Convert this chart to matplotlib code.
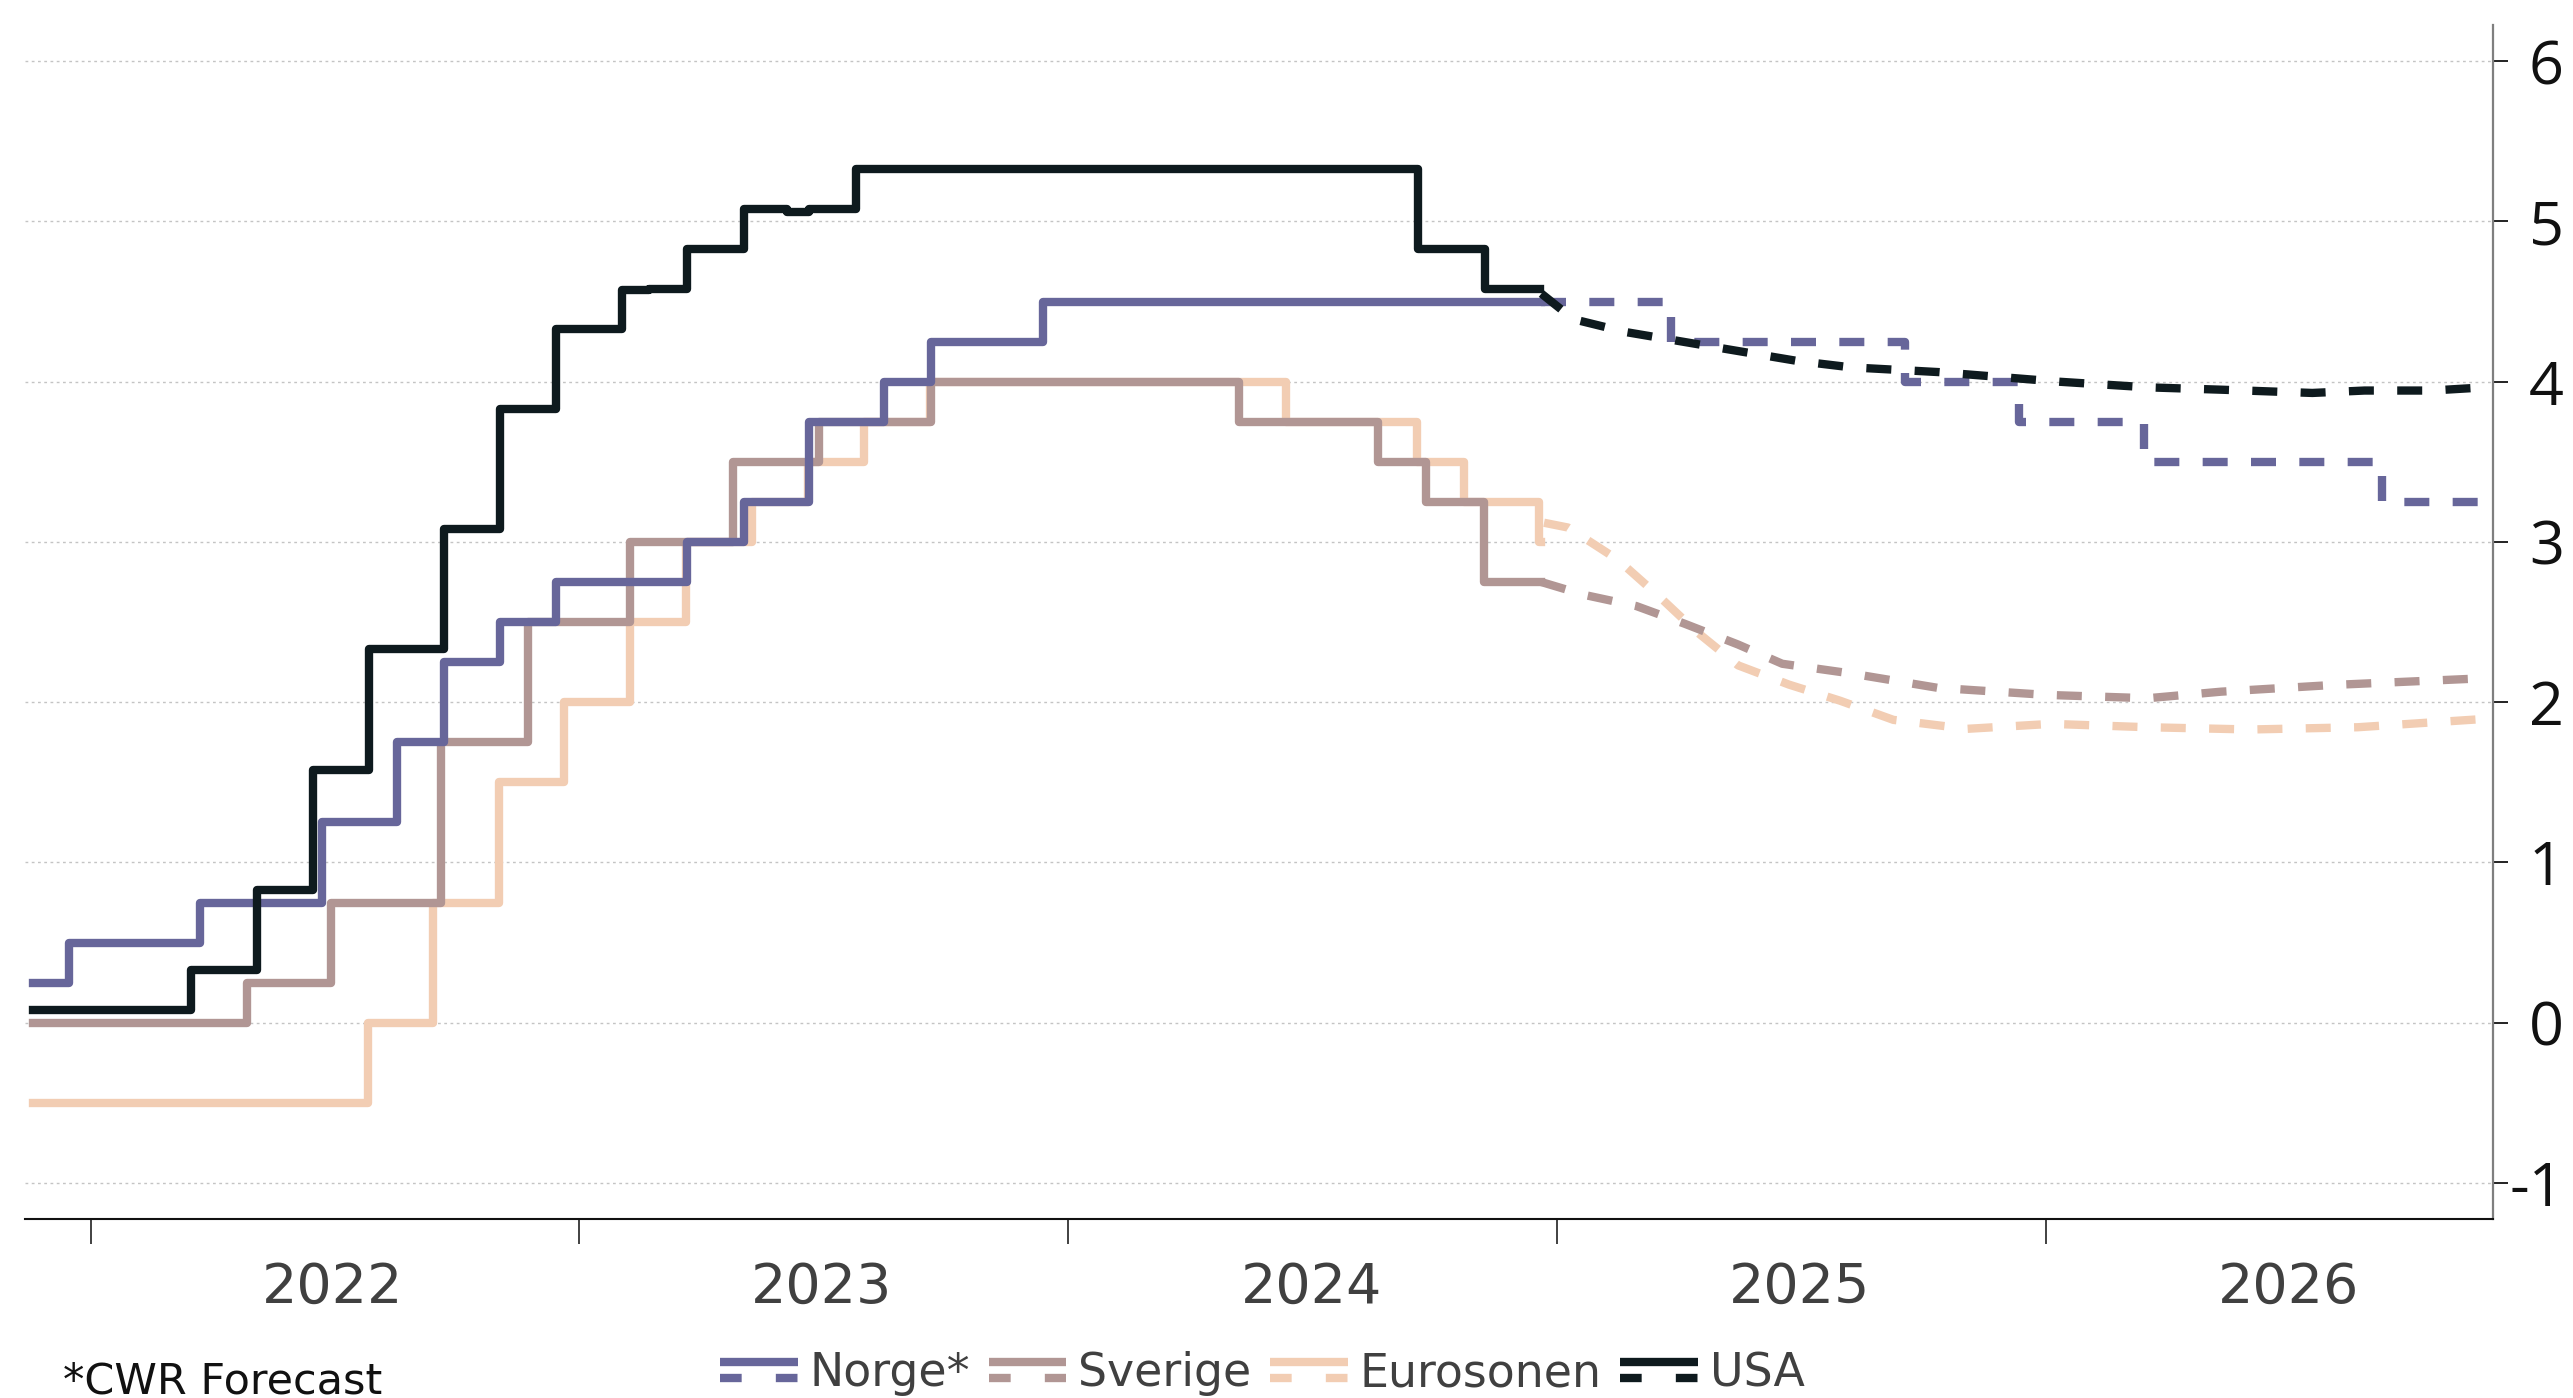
import matplotlib
matplotlib.use("Agg")
import matplotlib.pyplot as plt
import matplotlib.dates as mdates
from matplotlib.legend_handler import HandlerBase
from matplotlib.lines import Line2D
import pandas as pd

plt.rcParams['font.family'] = ['DejaVu Sans']

# Styringsrenter, historikk: dato for hver endring og ny rente
norge_dato = ['2021-11-19', '2021-12-16', '2022-03-24', '2022-06-23', '2022-08-18',
              '2022-09-22', '2022-11-03', '2022-12-15', '2023-03-23', '2023-05-04',
              '2023-06-22', '2023-08-17', '2023-09-21', '2023-12-14', '2024-12-20']
norge_rente = [0.25, 0.5, 0.75, 1.25, 1.75, 2.25, 2.5, 2.75, 3.0, 3.25, 3.75, 4.0,
               4.25, 4.5, 4.5]

sverige_dato = ['2021-11-19', '2022-04-28', '2022-06-30', '2022-09-20', '2022-11-24',
                '2023-02-08', '2023-04-26', '2023-06-29', '2023-09-21', '2024-05-08',
                '2024-08-20', '2024-09-25', '2024-11-07', '2024-12-20']
sverige_rente = [0.0, 0.25, 0.75, 1.75, 2.5, 3.0, 3.5, 3.75, 4.0, 3.75, 3.5, 3.25,
                 2.75, 2.75]

euro_dato = ['2021-11-19', '2022-07-27', '2022-09-14', '2022-11-02', '2022-12-21',
             '2023-02-08', '2023-03-22', '2023-05-10', '2023-06-21', '2023-08-02',
             '2023-09-20', '2024-06-12', '2024-09-18', '2024-10-23', '2024-12-18',
             '2024-12-20']
euro_rente = [-0.5, 0.0, 0.75, 1.5, 2.0, 2.5, 3.0, 3.25, 3.5, 3.75, 4.0, 3.75, 3.5,
              3.25, 3.0, 3.0]

usa_dato = ['2021-11-19', '2022-03-17', '2022-05-05', '2022-06-16', '2022-07-28',
            '2022-09-22', '2022-11-03', '2022-12-15', '2023-02-02', '2023-02-22',
            '2023-03-23', '2023-05-04', '2023-06-05', '2023-06-22', '2023-07-27',
            '2024-09-19', '2024-11-08', '2024-12-19']
usa_rente = [0.08, 0.33, 0.83, 1.58, 2.33, 3.08, 3.83, 4.33, 4.57, 4.58, 4.83, 5.08,
             5.06, 5.08, 5.33, 4.83, 4.58, 4.58]

# Prognoser (CWR / markedsprising)
norge_prog_dato = ['2024-12-20', '2025-03-27', '2025-09-18', '2025-12-12',
                   '2026-03-15', '2026-09-09', '2026-11-25']
norge_prog = [4.5, 4.25, 4.0, 3.75, 3.5, 3.25, 3.25]

sverige_prog_dato = ['2024-12-20', '2025-01-21', '2025-03-01', '2025-04-06',
                     '2025-05-16', '2025-06-18', '2025-08-08', '2025-10-12',
                     '2026-01-01', '2026-03-18', '2026-05-12', '2026-08-04',
                     '2026-11-25']
sverige_prog = [2.75, 2.67, 2.60, 2.49, 2.36, 2.24, 2.18, 2.09, 2.046, 2.025, 2.066,
                2.108, 2.15]

euro_prog_dato = ['2024-12-22', '2025-01-09', '2025-02-15', '2025-03-18', '2025-04-15',
                  '2025-05-16', '2025-06-23', '2025-07-31', '2025-09-09', '2025-11-03',
                  '2026-01-05', '2026-03-18', '2026-06-03', '2026-08-22', '2026-11-25']
euro_prog = [3.12, 3.09, 2.89, 2.66, 2.44, 2.23, 2.11, 2.01, 1.89, 1.834, 1.865, 1.844,
             1.83, 1.844, 1.896]

usa_prog_dato = ['2024-12-20', '2025-01-13', '2025-02-21', '2025-05-10', '2025-06-29',
                 '2025-08-08', '2025-10-13', '2026-01-11', '2026-03-18', '2026-05-13',
                 '2026-07-19', '2026-08-27', '2026-10-16', '2026-11-25']
usa_prog = [4.55, 4.39, 4.31, 4.20, 4.13, 4.09, 4.06, 4.00, 3.965, 3.95, 3.93, 3.945,
            3.945, 3.965]

y_ticks = [-1, 0, 1, 2, 3, 4, 5, 6]
y_labels = ['-1', '0', '1', '2', '3', '4', '5', '6']

serier = [
    ('Norge*', '#67669a', norge_dato, norge_rente, norge_prog_dato, norge_prog, True, 4),
    ('Sverige', '#b19694', sverige_dato, sverige_rente, sverige_prog_dato, sverige_prog, False, 3),
    ('Eurosonen', '#f2cdb3', euro_dato, euro_rente, euro_prog_dato, euro_prog, False, 2),
    ('USA', '#0e1a1e', usa_dato, usa_rente, usa_prog_dato, usa_prog, False, 5),
]

LW = 6.0
DASH = (3.0, 2.8)


class HeltrukketOgStiplet(HandlerBase):
    # legendesymbol: heltrukken linje over, stiplet linje under
    def create_artists(self, legend, orig_handle, xdescent, ydescent, width, height,
                       fontsize, trans):
        farge = orig_handle.get_color()
        midt = height / 2 - ydescent
        x0, x1 = -xdescent, width - xdescent
        topp = Line2D([x0, x1], [midt + 6, midt + 6], color=farge, lw=LW,
                      solid_capstyle='butt', transform=trans)
        bunn = Line2D([x0, x1], [midt - 6, midt - 6], color=farge, lw=LW,
                      dashes=(2.6, 4.1), transform=trans)
        return [topp, bunn]


fig = plt.figure(figsize=(25.73, 13.98), dpi=100)
ax = fig.add_axes([0.0097, 0.128, 0.9592, 0.854])

handles = []
for navn, farge, dato, rente, pdato, prog, trapp, z in serier:
    ax.step(pd.to_datetime(dato), rente, where='post', color=farge, lw=LW, zorder=z)
    if trapp:
        ax.step(pd.to_datetime(pdato), prog, where='post', color=farge, lw=LW,
                dashes=DASH, zorder=z)
    else:
        ax.plot(pd.to_datetime(pdato), prog, color=farge, lw=LW, dashes=DASH, zorder=z)
    handles.append(Line2D([], [], color=farge, lw=LW, label=navn))

ax.set_xlim(pd.Timestamp('2021-11-13'), pd.Timestamp('2026-12-01'))
ax.set_ylim(-1.225, 6.225)

# årstall midt i året, tikker ved årsskiftet
ax.xaxis.set_major_locator(mdates.YearLocator())
ax.xaxis.set_major_formatter(plt.NullFormatter())
ax.xaxis.set_minor_locator(mdates.MonthLocator(bymonth=7, bymonthday=1))
ax.xaxis.set_minor_formatter(mdates.DateFormatter('%Y'))
ax.tick_params(axis='x', which='major', length=18, width=1.3, color='#333333')
ax.tick_params(axis='x', which='minor', length=0, pad=30, labelsize=40,
               labelcolor='#404040')

ax.yaxis.tick_right()
ax.set_yticks(y_ticks, labels=y_labels, fontfamily='Open Sans', ha='right')
ax.tick_params(axis='y', length=11, width=1.3, pad=40, labelsize=44,
               labelcolor='#111111', color='#111111')

ax.grid(axis='y', color='#c4c4c4', lw=1.0, linestyle=(0, (2, 2.5)))
ax.set_axisbelow(True)

ax.spines['top'].set_visible(False)
ax.spines['left'].set_visible(False)
ax.spines['right'].set_color('#7f7f7f')
ax.spines['right'].set_linewidth(1.6)
ax.spines['bottom'].set_color('#111111')
ax.spines['bottom'].set_linewidth(1.5)

fig.legend(handles=handles, handler_map={Line2D: HeltrukketOgStiplet()},
           loc='center', bbox_to_anchor=(0.4906, 0.0175), ncol=4, frameon=False,
           fontsize=33, handlelength=1.7, handletextpad=0.26, columnspacing=0.4,
           labelcolor='#404040')

fig.text(0.0245, 0.012, '*CWR Forecast', fontsize=31, color='#111111', va='center')

fig.savefig('out.png', dpi=100)
